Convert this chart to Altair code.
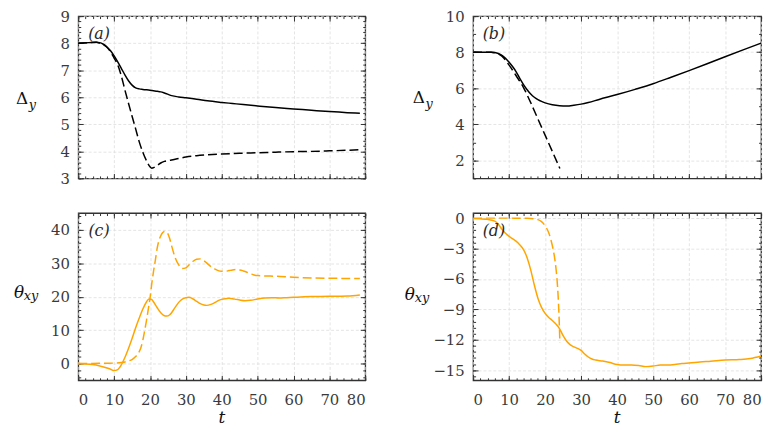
import altair as alt
import pandas as pd

FONT = "DejaVu Serif"
BLACK = "#000000"
ORANGE = "#FFA500"

# ---------------- data ----------------
# Panel (a): Delta_y
a_solid_t = [0, 3, 5, 6, 7, 8, 9, 10, 11, 12, 13, 14, 15, 16, 17, 18, 20, 22, 23, 24, 26, 28, 30, 33, 36, 40, 43, 46, 50, 55, 60, 65, 70, 75, 78.5]
a_solid_v = [8.0, 8.02, 8.03, 8.02, 7.96, 7.86, 7.72, 7.53, 7.31, 7.07, 6.83, 6.61, 6.45, 6.35, 6.31, 6.29, 6.26, 6.22, 6.2, 6.16, 6.06, 6.01, 5.98, 5.93, 5.87, 5.81, 5.77, 5.73, 5.68, 5.62, 5.57, 5.52, 5.47, 5.43, 5.41]
a_dash_t = [0, 3, 5, 6, 7, 8, 9, 10, 11, 12, 13, 14, 15, 16, 17, 18, 19, 20, 20.5, 21, 22, 23, 24, 26, 28, 30, 33, 36, 40, 45, 50, 55, 60, 65, 70, 75, 78.5]
a_dash_v = [8.0, 8.02, 8.03, 8.0, 7.95, 7.85, 7.68, 7.45, 7.2, 6.79, 6.27, 5.78, 5.3, 4.83, 4.35, 3.97, 3.66, 3.43, 3.38, 3.4, 3.48, 3.57, 3.63, 3.68, 3.74, 3.79, 3.84, 3.87, 3.9, 3.93, 3.95, 3.97, 3.99, 4.0, 4.02, 4.04, 4.06]

# Panel (b): Delta_y
b_solid_t = [0, 3, 5, 6, 7, 8, 9, 10, 11, 12, 13, 14, 15, 16, 17, 18, 19, 20, 22, 24, 26, 28, 30, 32, 35, 40, 45, 50, 55, 60, 65, 70, 75, 80]
b_solid_v = [8.0, 8.0, 8.0, 7.98, 7.93, 7.83, 7.66, 7.44, 7.19, 6.9, 6.53, 6.2, 5.92, 5.68, 5.5, 5.37, 5.27, 5.19, 5.08, 5.03, 5.02, 5.06, 5.12, 5.21, 5.38, 5.65, 5.94, 6.25, 6.61, 6.98, 7.36, 7.75, 8.13, 8.5]
b_dash_t = [0, 3, 5, 6, 7, 8, 10, 12, 14, 16, 18, 20, 22, 24.1]
b_dash_v = [8.0, 8.0, 8.0, 7.97, 7.9, 7.78, 7.28, 6.68, 6.04, 5.2, 4.3, 3.4, 2.5, 1.55]

# Panel (c): theta_xy
c_solid_t = [0, 2, 4, 6, 8, 9, 10, 11, 12, 13, 14, 15, 16, 17, 18, 19, 19.7, 20.5, 21, 22, 23, 24, 24.6, 25.5, 26, 27, 28, 29, 30, 30.8, 32, 33, 34, 35, 35.8, 37, 38, 39, 40, 41, 42, 43, 44, 45, 46.5, 48, 50, 52, 54, 56, 58, 60, 62, 65, 70, 75, 78.5]
c_solid_v = [0.0, -0.1, -0.3, -0.7, -1.3, -1.7, -2.1, -1.8, -0.4, 1.8, 4.5, 7.5, 10.7, 13.6, 16.3, 18.4, 19.3, 19.1, 18.4, 16.7, 15.2, 14.3, 14.2, 14.6, 15.2, 16.8, 18.3, 19.3, 19.7, 19.8, 19.3, 18.6, 17.9, 17.5, 17.4, 17.7, 18.2, 18.8, 19.2, 19.4, 19.5, 19.4, 19.2, 19.0, 18.8, 18.9, 19.3, 19.6, 19.7, 19.6, 19.7, 19.8, 19.9, 20.05, 20.1, 20.2, 20.5]
c_dash_t = [0, 4, 8, 10, 12, 13, 14, 15, 16, 17, 17.5, 18, 18.5, 19, 19.5, 20, 20.5, 21, 21.5, 22, 22.5, 23, 23.5, 24, 24.5, 25, 25.5, 26, 27, 28, 29, 30, 31, 32, 33, 34, 35, 36, 37, 38, 39, 40, 41, 42, 43, 44, 45, 46, 47, 48, 49, 50, 52, 55, 60, 65, 70, 75, 78.5]
c_dash_v = [0.0, 0.05, 0.1, 0.15, 0.3, 0.5, 0.8, 1.2, 2.1, 3.6, 4.9, 7.0, 9.8, 12.8, 16.1, 19.5, 24.0, 27.7, 31.0, 34.5, 36.8, 38.2, 39.1, 39.5, 39.4, 38.8, 37.3, 35.3, 31.7, 29.5, 28.4, 28.6, 29.6, 30.6, 31.2, 31.3, 30.8, 29.9, 29.0, 28.3, 27.8, 27.6, 27.6, 27.8, 28.0, 28.1, 28.0, 27.7, 27.3, 26.9, 26.5, 26.3, 26.2, 26.1, 25.8, 25.6, 25.5, 25.45, 25.4]

# Panel (d): theta_xy
d_solid_t = [0, 2, 4, 6, 7, 8, 9, 10, 11, 12, 13, 14, 15, 16, 17, 18, 19, 20, 21, 22, 23, 24, 25, 26, 27, 28, 29, 30, 31, 32, 33, 34, 36, 38, 40, 42, 44, 46, 48, 50, 52, 54, 56, 58, 60, 63, 66, 70, 74, 77, 80]
d_solid_v = [-0.05, -0.07, -0.12, -0.3, -0.6, -1.1, -1.5, -1.8, -2.05, -2.3, -2.65, -3.1, -3.9, -5.1, -6.6, -7.9, -8.8, -9.4, -9.8, -10.1, -10.45, -10.9, -11.6, -12.15, -12.5, -12.7, -12.85, -13.05, -13.4, -13.7, -13.9, -14.0, -14.1, -14.25, -14.45, -14.5, -14.5, -14.55, -14.65, -14.6, -14.5, -14.5, -14.45, -14.35, -14.3, -14.2, -14.12, -14.0, -13.95, -13.85, -13.6]
d_dash_t = [0, 5, 10, 15, 17, 18, 19, 20, 20.5, 21, 21.5, 22, 22.5, 23, 23.3, 23.6, 23.9, 24.1]
d_dash_v = [0.0, 0.0, 0.0, -0.02, -0.08, -0.15, -0.35, -0.75, -1.05, -1.45, -2.0, -2.7, -3.6, -4.9, -6.0, -7.6, -10.0, -12.3]

# axis ticks
x_major = [0, 10, 20, 30, 40, 50, 60, 70, 80]
x_minor = list(range(0, 81, 2))
a_yticks = [3, 4, 5, 6, 7, 8, 9]
a_yminor = [round(3 + 0.2 * i, 2) for i in range(31)]
b_yticks = [2, 4, 6, 8, 10]
b_yminor = [1, 2, 3, 4, 5, 6, 7, 8, 9, 10]
c_yticks = [0, 10, 20, 30, 40]
c_yminor = list(range(-4, 45, 2))
d_yticks = [0, -3, -6, -9, -12, -15]
d_yminor = [round(-15.6 + 0.6 * i, 2) for i in range(27)]

TICK_COLOR = "#333333"
LABEL_COLOR = "#3a3a3a"


def panel(st, sv, dt, dv, color, ydom, yticks, yminor, xlabels, tag, sym, sub,
          sym_x, sub_x, sym_y, sub_y, w, h):
    df_s = pd.DataFrame({"t": st, "v": sv})
    df_d = pd.DataFrame({"t": dt, "v": dv})
    xs = alt.Scale(domain=[0, 80], nice=False, zero=False)
    ys = alt.Scale(domain=ydom, nice=False, zero=False)

    def axis_layer(xaxis, yaxis):
        return alt.Chart(df_s).mark_line(strokeOpacity=0).encode(
            x=alt.X("t:Q", scale=xs, axis=xaxis),
            y=alt.Y("v:Q", scale=ys, axis=yaxis),
        )

    grid_common = dict(grid=True, gridColor="#dedede", gridDash=[3, 2], gridWidth=0.8,
                       domain=False, ticks=False, title=None,
                       labelFont=FONT, labelFontSize=15, labelColor=LABEL_COLOR)
    base_axes = axis_layer(
        alt.Axis(orient="bottom", values=x_major, labels=xlabels, labelPadding=12, **grid_common),
        alt.Axis(orient="left", values=yticks, labelPadding=9, **grid_common),
    )

    def tick_axis(orient, values, size):
        return alt.Axis(orient=orient, values=values, grid=False, domain=False, labels=False,
                        ticks=True, tickSize=size, offset=-size, tickColor=TICK_COLOR,
                        tickWidth=1, title=None)

    maj_bl = axis_layer(tick_axis("bottom", x_major, 5), tick_axis("left", yticks, 5))
    min_bl = axis_layer(tick_axis("bottom", x_minor, 2.5), tick_axis("left", yminor, 2.5))
    maj_tr = axis_layer(tick_axis("top", x_major, 5), tick_axis("right", yticks, 5))
    min_tr = axis_layer(tick_axis("top", x_minor, 2.5), tick_axis("right", yminor, 2.5))

    solid = alt.Chart(df_s).mark_line(color=color, strokeWidth=1.5, interpolate="monotone").encode(
        x=alt.X("t:Q", scale=xs, axis=None), y=alt.Y("v:Q", scale=ys, axis=None))
    dashed = alt.Chart(df_d).mark_line(color=color, strokeWidth=1.5, strokeDash=[9, 4],
                                       interpolate="monotone").encode(
        x=alt.X("t:Q", scale=xs, axis=None), y=alt.Y("v:Q", scale=ys, axis=None))

    lab = pd.DataFrame({"s": [tag]})
    tag_text = alt.Chart(lab).mark_text(font=FONT, fontSize=16, fontStyle="italic",
                                        color="#2a2a2a", align="center", baseline="middle").encode(
        text="s:N", x=alt.value(21), y=alt.value(18))

    sym_text = alt.Chart(pd.DataFrame({"s": [sym]})).mark_text(
        font=FONT, fontSize=17, fontStyle="italic" if sym == "θ" else "normal",
        color="#111111", align="left", baseline="alphabetic").encode(
        text="s:N", x=alt.value(sym_x), y=alt.value(sym_y))
    sub_text = alt.Chart(pd.DataFrame({"s": [sub]})).mark_text(
        font=FONT, fontSize=13, fontStyle="italic", color="#111111",
        align="left", baseline="alphabetic").encode(
        text="s:N", x=alt.value(sub_x), y=alt.value(sub_y))

    layers = [base_axes, maj_bl, min_bl, maj_tr, min_tr, solid, dashed, tag_text, sym_text, sub_text]
    if xlabels:
        t_text = alt.Chart(pd.DataFrame({"s": ["t"]})).mark_text(
            font=FONT, fontSize=17, fontStyle="italic", color="#111111",
            align="center", baseline="alphabetic").encode(
            text="s:N", x=alt.value(w / 2), y=alt.value(h + 43))
        layers.append(t_text)

    return alt.layer(*layers).resolve_axis(x="independent", y="independent").properties(
        width=w, height=h)


pa = panel(a_solid_t, a_solid_v, a_dash_t, a_dash_v, BLACK, [3, 9], a_yticks, a_yminor, False,
           "(a)", "Δ", "y", -63, -50, 89, 94, 290, 164)
pb = panel(b_solid_t, b_solid_v, b_dash_t, b_dash_v, BLACK, [1, 10], b_yticks, b_yminor, False,
           "(b)", "Δ", "y", -61, -48, 88, 93, 291, 164)
pc = panel(c_solid_t, c_solid_v, c_dash_t, c_dash_v, ORANGE, [-5, 45], c_yticks, c_yminor, True,
           "(c)", "θ", "xy", -65, -55, 86, 88, 290, 169)
pd_ = panel(d_solid_t, d_solid_v, d_dash_t, d_dash_v, ORANGE, [-16, 0.5], d_yticks, d_yminor, True,
            "(d)", "θ", "xy", -69, -59, 88, 90, 291, 169)

chart = alt.concat(pa, pb, pc, pd_, columns=2, spacing={"row": 35, "column": 109}).properties(
    bounds="flush", padding={"left": 5, "top": -2, "right": 5, "bottom": 0}
).configure_view(stroke="#333333", strokeWidth=1.3)

chart.save("out.html", embed_options={"renderer": "svg", "actions": False})
